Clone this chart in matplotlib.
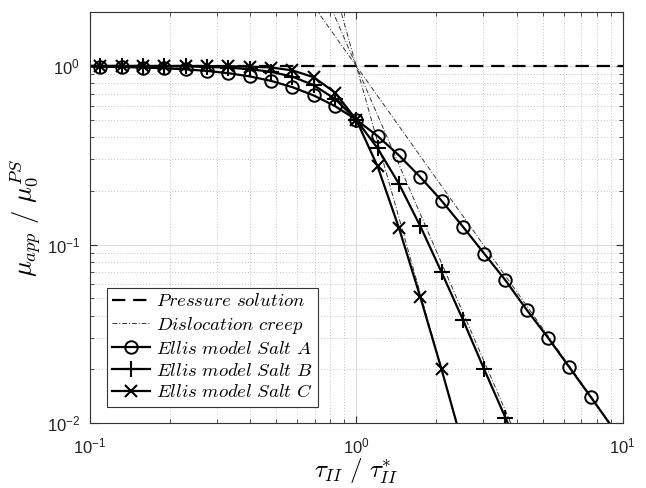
import matplotlib
matplotlib.use('Agg')
import matplotlib.pyplot as plt
from matplotlib.ticker import LogLocator, NullFormatter

plt.rcParams['font.family'] = ['Liberation Sans', 'DejaVu Sans']
plt.rcParams['mathtext.fontset'] = 'cm'

# normalised stress, sampled on an even log grid (first entry only used by the lines)
tau = [0.1, 0.1096, 0.1318, 0.1585, 0.1905, 0.2291, 0.2754, 0.3311, 0.3981,
       0.4786, 0.5754, 0.6918, 0.8318, 1.0, 1.2023, 1.4454, 1.7378, 2.0893,
       2.5119, 3.0200, 3.6308, 4.3652, 5.2481, 6.3096, 7.5858, 9.1201]

# apparent viscosity / pressure-solution viscosity
salt_a = [0.992, 0.990, 0.986, 0.980, 0.970, 0.957, 0.938, 0.911, 0.874,
          0.825, 0.761, 0.684, 0.596, 0.500, 0.405, 0.316, 0.239, 0.176,
          0.126, 0.089, 0.063, 0.043, 0.030, 0.0205, 0.0140, 0.0095]
salt_b = [1.0, 0.9995, 0.999, 0.998, 0.997, 0.994, 0.988, 0.978, 0.960,
          0.927, 0.871, 0.781, 0.654, 0.500, 0.346, 0.219, 0.127, 0.070,
          0.038, 0.0200, 0.0107, 0.0056]
salt_c = [1.0, 1.0, 1.0, 1.0, 1.0, 0.9996, 0.999, 0.997, 0.992,
          0.980, 0.945, 0.865, 0.710, 0.500, 0.274, 0.124, 0.051, 0.020,
          0.0075]

# pressure solution (constant) and dislocation creep asymptotes
ps_x = [0.1, 10.0]
ps_y = [1.0, 1.0]
dc_x_a = [0.7, 10.0]
dc_y_a = [2.115, 0.00794]
dc_x_b = [0.78, 10.0]
dc_y_b = [2.36, 0.000355]
dc_x_c = [0.86, 10.0]
dc_y_c = [2.22, 0.000005]

fig = plt.figure(figsize=(6.46, 4.88), dpi=100)
ax = fig.add_axes([0.139, 0.133, 0.825, 0.842])

lw = 1.6
ax.plot(ps_x, ps_y, color='k', lw=lw, dashes=(6, 3.5), label=r'$Pressure\ solution$')
dc_style = dict(color='#333333', lw=0.7, dashes=(5, 2, 1, 2))
ax.plot(dc_x_a, dc_y_a, label=r'$Dislocation\ creep$', **dc_style)
ax.plot(dc_x_b, dc_y_b, **dc_style)
ax.plot(dc_x_c, dc_y_c, **dc_style)

ax.plot(tau[:len(salt_a)], salt_a, color='k', lw=lw, marker='o', ms=9,
        mfc='none', mew=1.4, markevery=slice(1, len(salt_a) - 1),
        label=r'$Ellis\ model\ Salt\ A$')
ax.plot(tau[:len(salt_b)], salt_b, color='k', lw=lw, marker='+', ms=11,
        mew=1.5, markevery=slice(1, len(salt_b) - 1),
        label=r'$Ellis\ model\ Salt\ B$')
ax.plot(tau[:len(salt_c)], salt_c, color='k', lw=lw, marker='x', ms=8,
        mew=1.5, markevery=slice(1, len(salt_c) - 1),
        label=r'$Ellis\ model\ Salt\ C$')

ax.set_xscale('log')
ax.set_yscale('log')
ax.set_xlim(0.1, 10)
ax.set_ylim(0.01, 2)
ax.xaxis.set_major_locator(LogLocator(base=10, numticks=10))
ax.yaxis.set_major_locator(LogLocator(base=10, numticks=10))
ax.xaxis.set_minor_locator(LogLocator(base=10, subs=range(2, 10), numticks=20))
ax.yaxis.set_minor_locator(LogLocator(base=10, subs=range(2, 10), numticks=20))
ax.xaxis.set_minor_formatter(NullFormatter())
ax.yaxis.set_minor_formatter(NullFormatter())

ax.grid(True, which='major', color='#dcdcdc', lw=0.8, ls='-')
ax.grid(True, which='minor', color='#c4c4c4', lw=0.7, ls=(0, (1, 2)))
ax.set_axisbelow(True)

for s in ax.spines.values():
    s.set_color('#333333')
    s.set_linewidth(0.8)
ax.tick_params(which='both', direction='in', top=True, right=True,
               colors='#333333', labelcolor='#222222')
ax.tick_params(which='major', length=5, labelsize=12)
ax.tick_params(axis='x', which='major', pad=10)
ax.tick_params(axis='y', which='major', pad=7)
ax.tick_params(which='minor', length=3)

ax.set_xlabel(r'$\tau_{II}\ /\ \tau_{II}^{*}$', fontsize=18, labelpad=0)
ax.set_ylabel(r'$\mu_{app}\ /\ \mu_0^{PS}$', fontsize=19, labelpad=2)

leg = ax.legend(loc='lower left', bbox_to_anchor=(0.032, 0.039),
                borderaxespad=0, fontsize=13.5, fancybox=False,
                framealpha=1, edgecolor='#333333', handlelength=2.0,
                handletextpad=0.3, labelspacing=0.25, borderpad=0.3)
leg.get_frame().set_linewidth(0.8)

fig.savefig('out.png', dpi=100)
plt.close(fig)
